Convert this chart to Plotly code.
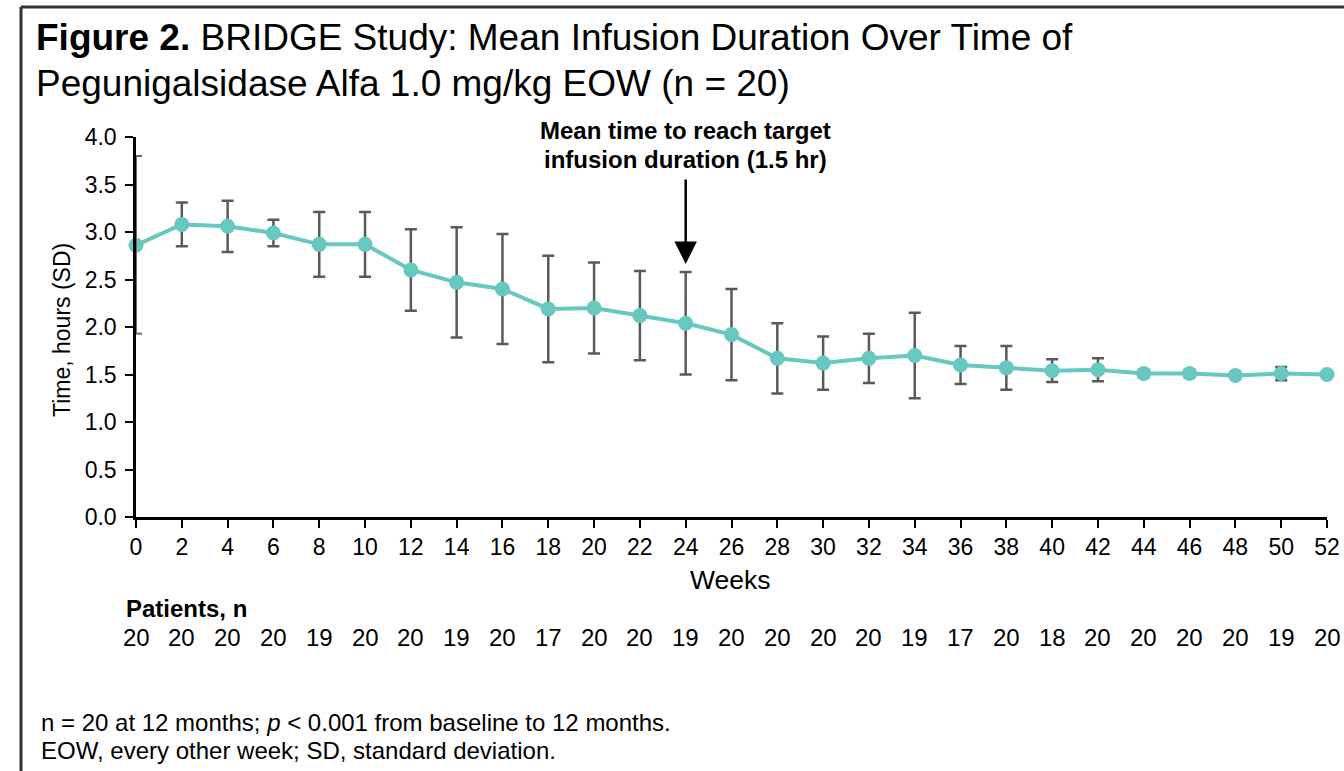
import plotly.graph_objects as go

weeks = list(range(0, 54, 2))
mean_hours = [2.86, 3.08, 3.06, 2.99, 2.87, 2.87, 2.60, 2.47, 2.40, 2.19, 2.20, 2.12, 2.04, 1.92,
              1.67, 1.62, 1.67, 1.70, 1.60, 1.57, 1.54, 1.55, 1.51, 1.51, 1.49, 1.51, 1.50]
sd_hours = [0.0, 0.23, 0.27, 0.14, 0.34, 0.34, 0.43, 0.58, 0.58, 0.56, 0.48, 0.47, 0.54, 0.48,
            0.37, 0.28, 0.26, 0.45, 0.20, 0.23, 0.12, 0.12, 0.04, 0.04, 0.02, 0.07, 0.0]
patients_n = [20, 20, 20, 20, 19, 20, 20, 19, 20, 17, 20, 20, 19, 20, 20, 20, 20, 19, 17, 20,
              18, 20, 20, 20, 20, 19, 20]
y_ticks = [0.0, 0.5, 1.0, 1.5, 2.0, 2.5, 3.0, 3.5, 4.0]

FONT = "Liberation Sans, Arial, sans-serif"
W, H = 1344, 771
L, R, T, B = 136, 1327, 137, 517  # plot area in pixels


def px(xp):
    return (xp - L) / (R - L)


def py(yp):
    return (B - yp) / (B - T)


fig = go.Figure()
fig.add_trace(go.Scatter(
    x=weeks, y=mean_hours,
    mode="lines+markers",
    line=dict(color="#66C8C0", width=4),
    marker=dict(color="#66C8C0", size=15),
    error_y=dict(type="data", array=sd_hours, visible=True,
                 color="#595959", thickness=2.5, width=6),
    cliponaxis=False,
    showlegend=False,
    hoverinfo="x+y",
))

annotations = []
# Title
annotations.append(dict(text="<b>Figure 2.</b> BRIDGE Study: Mean Infusion Duration Over Time of",
                        x=px(34), y=py(38), xref="paper", yref="paper",
                        xanchor="left", yanchor="middle", showarrow=False,
                        font=dict(size=37, color="black", family=FONT)))
annotations.append(dict(text="Pegunigalsidase Alfa 1.0 mg/kg EOW (n = 20)",
                        x=px(34), y=py(84), xref="paper", yref="paper",
                        xanchor="left", yanchor="middle", showarrow=False,
                        font=dict(size=37, color="black", family=FONT)))
# Callout text
annotations.append(dict(text="<b>Mean time to reach target</b>",
                        x=24, y=py(131), xref="x", yref="paper",
                        xanchor="center", yanchor="middle", showarrow=False,
                        font=dict(size=24, color="black", family=FONT)))
annotations.append(dict(text="<b>infusion duration (1.5 hr)</b>",
                        x=24, y=py(159), xref="x", yref="paper",
                        xanchor="center", yanchor="middle", showarrow=False,
                        font=dict(size=24, color="black", family=FONT)))
# Arrow
annotations.append(dict(text="", x=24, y=(B - 264) / 95.0, xref="x", yref="y",
                        showarrow=True, ax=0, ay=-86, axref="pixel", ayref="pixel",
                        arrowhead=2, arrowsize=1.8, arrowwidth=2.5, arrowcolor="black"))
# Axis titles
annotations.append(dict(text="Weeks", x=px(730), y=py(580), xref="paper", yref="paper",
                        xanchor="center", yanchor="middle", showarrow=False,
                        font=dict(size=26.5, color="black", family=FONT)))
annotations.append(dict(text="Time, hours (SD)", x=px(62), y=py(330), xref="paper", yref="paper",
                        xanchor="center", yanchor="middle", showarrow=False, textangle=-90,
                        font=dict(size=23, color="black", family=FONT)))
# Patients row
annotations.append(dict(text="<b>Patients, n</b>", x=px(124), y=py(608), xref="paper", yref="paper",
                        xanchor="left", yanchor="middle", showarrow=False,
                        font=dict(size=24, color="black", family=FONT)))
for wk, n in zip(weeks, patients_n):
    annotations.append(dict(text=str(n), x=wk, y=py(637), xref="x", yref="paper",
                            xanchor="center", yanchor="middle", showarrow=False,
                            font=dict(size=24, color="black", family=FONT)))
# Footnotes
annotations.append(dict(text="n = 20 at 12 months; <i>p</i> < 0.001 from baseline to 12 months.",
                        x=px(39), y=py(722), xref="paper", yref="paper",
                        xanchor="left", yanchor="middle", showarrow=False,
                        font=dict(size=24, color="black", family=FONT)))
annotations.append(dict(text="EOW, every other week; SD, standard deviation.",
                        x=px(39), y=py(750), xref="paper", yref="paper",
                        xanchor="left", yanchor="middle", showarrow=False,
                        font=dict(size=24, color="black", family=FONT)))

shapes = [
    # frame (top and left)
    dict(type="line", xref="paper", yref="paper", x0=px(21), x1=px(1350), y0=py(7), y1=py(7),
         line=dict(color="#333333", width=3)),
    dict(type="line", xref="paper", yref="paper", x0=px(21), x1=px(21), y0=py(7), y1=py(780),
         line=dict(color="#333333", width=3)),
    # grey overlay segment on the y axis
    dict(type="line", xref="x", yref="y", x0=0, x1=0, y0=1.93, y1=3.8,
         line=dict(color="#6b6b6b", width=2)),
    dict(type="line", xref="paper", yref="y", x0=0, x1=px(142), y0=3.8, y1=3.8,
         line=dict(color="#6b6b6b", width=2)),
    dict(type="line", xref="paper", yref="y", x0=0, x1=px(142), y0=1.93, y1=1.93,
         line=dict(color="#6b6b6b", width=2)),
]

fig.update_layout(
    template="none",
    width=W, height=H,
    autosize=False,
    margin=dict(l=L, r=W - R, t=T, b=H - B, pad=0),
    paper_bgcolor="white", plot_bgcolor="white",
    font=dict(family=FONT, color="black"),
    annotations=annotations,
    shapes=shapes,
    xaxis=dict(range=[0, 52], tickmode="array", tickvals=weeks, ticktext=[str(w) for w in weeks],
               automargin=False,
               showline=True, linecolor="black", linewidth=2.5, ticks="outside", ticklen=8,
               tickwidth=2, tickcolor="black", showgrid=False, zeroline=False,
               tickfont=dict(size=23, color="black", family=FONT)),
    yaxis=dict(range=[0, 4], tickmode="array", tickvals=y_ticks,
               ticktext=[f"{v:.1f}" for v in y_ticks],
               automargin=False,
               showline=True, linecolor="black", linewidth=2.5, ticks="outside", ticklen=8,
               tickwidth=2, tickcolor="black", showgrid=False, zeroline=False,
               ticklabelstandoff=4,
               tickfont=dict(size=23, color="black", family=FONT)),
)

fig.write_html("out.html", config={"displayModeBar": False, "responsive": False},
               post_script="document.body.style.margin='0';document.body.style.overflow='hidden';")
